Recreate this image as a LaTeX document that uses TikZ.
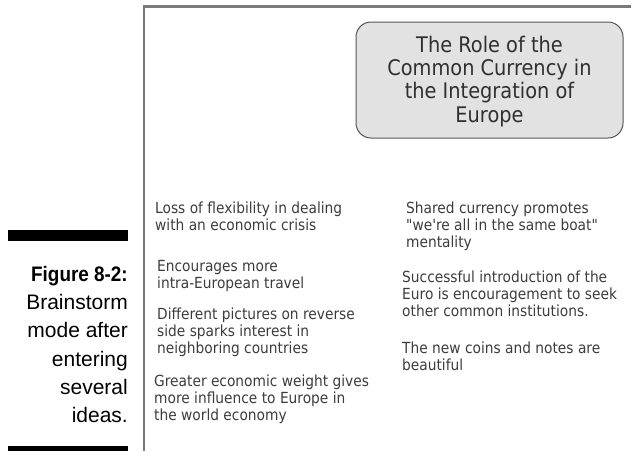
\documentclass[tikz,border=0pt]{standalone}
\usepackage{fontspec}
\setmainfont{Liberation Sans}
\newfontfamily\ideafont[FakeStretch=0.9]{DejaVu Sans}
\newfontfamily\capfont{Liberation Sans}
\newfontfamily\capboldfont[FakeStretch=0.9]{Liberation Sans Bold}
\definecolor{framegray}{HTML}{7A7A7A}
\definecolor{boxfill}{HTML}{E2E2E2}
\definecolor{boxline}{HTML}{555555}
\definecolor{ideacol}{HTML}{3C3C3C}
\definecolor{titlecol}{HTML}{303030}
\tikzset{
  ideatext/.style={anchor=base west, inner sep=0pt, align=left, text=ideacol,
    font=\ideafont\fontsize{15.3}{17}\selectfont},
  titletext/.style={anchor=base, inner sep=0pt, align=center, text=titlecol,
    font=\ideafont\fontsize{21.5}{23.3}\selectfont},
  titlebox/.style={draw=boxline, line width=1pt, fill=boxfill, rounded corners=15pt,
    minimum width=267pt, minimum height=116pt, inner sep=0pt},
  capline/.style={anchor=base east, inner sep=0pt, text=black,
    font=\capfont\fontsize{21}{28}\selectfont},
  capbold/.style={anchor=base east, inner sep=0pt, text=black,
    font=\capboldfont\fontsize{21}{28}\selectfont},
  blackbar/.style={fill=black, draw=none},
  frameline/.style={draw=framegray, line width=2.5pt}
}
\begin{document}
\begin{tikzpicture}[x=1pt,y=-1pt]
\useasboundingbox (0,0) rectangle (632,451);
% frame
\coordinate (ftop) at (631,6.5);
\coordinate (fcorner) at (144,6.5);
\coordinate (fbottom) at (144,451);
\draw[frameline] (ftop) -- (fcorner) -- (fbottom);
% caption bars
\fill[blackbar] (8,230) rectangle (128,241);
\fill[blackbar] (8,446) rectangle (128,451);
% caption
\node[capbold] (cap1) at (128,281) {Figure 8-2:};
\node[capline] (cap2) at (128,309) {Brainstorm};
\node[capline] (cap3) at (128,337) {mode after};
\node[capline] (cap4) at (128,366) {entering};
\node[capline] (cap5) at (128,394) {several};
\node[capline] (cap6) at (128,422) {ideas.};
% title box (anchor base = last line baseline)
\node[titlebox] (tbox) at (489.5,80) {};
\node[titletext] (title) at (489.5,122) {The Role of the\\Common Currency in\\the Integration of\\Europe};
% left ideas (positions are last-line baselines)
\node[ideatext] (i1) at (155,230) {Loss of flexibility in dealing\\with an economic crisis};
\node[ideatext] (i2) at (157,288) {Encourages more\\intra-European travel};
\node[ideatext] (i3) at (157,353) {Different pictures on reverse\\side sparks interest in\\neighboring countries};
\node[ideatext] (i4) at (154,420) {Greater economic weight gives\\more influence to Europe in\\the world economy};
% right ideas
\node[ideatext] (i5) at (406,247) {Shared currency promotes\\"we're all in the same boat"\\mentality};
\node[ideatext] (i6) at (402,316) {Successful introduction of the\\Euro is encouragement to seek\\other common institutions.};
\node[ideatext] (i7) at (402,370) {The new coins and notes are\\beautiful};
\end{tikzpicture}
\end{document}
